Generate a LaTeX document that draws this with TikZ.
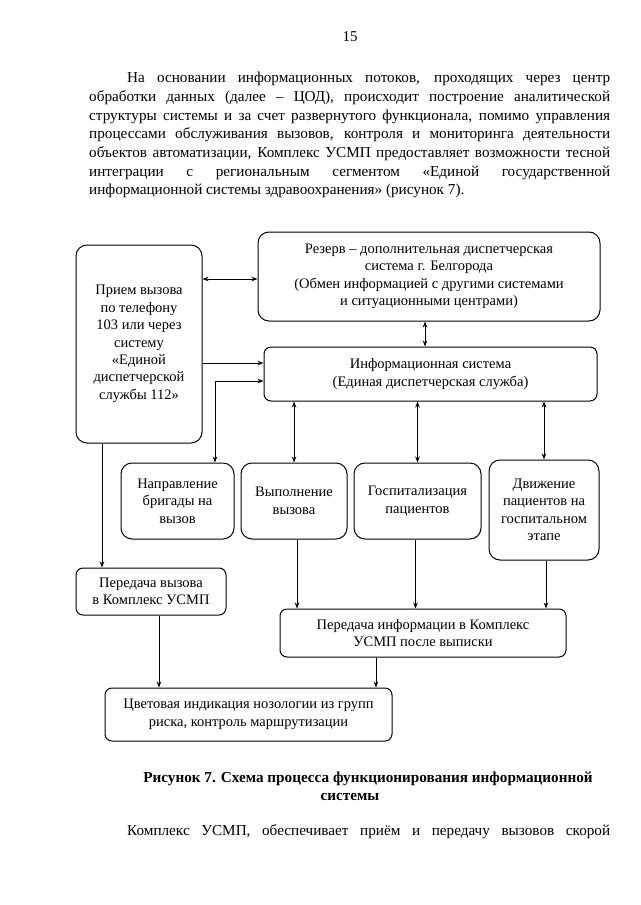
\documentclass[tikz,border=0pt]{standalone}
\usepackage{fontspec}
\setmainfont{Liberation Serif}
\usetikzlibrary{arrows.meta}
\tikzset{
  box/.style={draw, line width=1pt, align=center, inner sep=0pt, font=\fontsize{14.5}{17.4}\selectfont},
  bigbox/.style={box, rounded corners=11pt},
  smallbox/.style={box, rounded corners=7pt},
  arr/.style={line width=0.9pt, -{Stealth[length=6pt,width=4.5pt]}},
  darr/.style={line width=0.9pt, {Stealth[length=6pt,width=4.5pt]}-{Stealth[length=6pt,width=4.5pt]}},
  para/.style={anchor=west, inner sep=0pt, font=\fontsize{15.2}{18}\selectfont},
}
\begin{document}
\begin{tikzpicture}[x=1pt, y=-1pt]
\useasboundingbox[fill=white] (0,0) rectangle (640,905);

% page number
\node[inner sep=0pt, font=\fontsize{15}{18}\selectfont] (pg) at (350,37) {15};

% paragraph
\node[para] (t1) at (127,79)  {\makebox[483pt][s]{На основании информационных потоков, проходящих через центр}};
\node[para] (t2) at (89,97.7) {\makebox[521pt][s]{обработки данных (далее – ЦОД), происходит построение аналитической}};
\node[para] (t3) at (89,116.4)  {\makebox[521pt][s]{структуры системы и за счет развернутого функционала, помимо управления}};
\node[para] (t4) at (89,135.1){\makebox[521pt][s]{процессами обслуживания вызовов, контроля и мониторинга деятельности}};
\node[para] (t5) at (89,153.8)  {\makebox[521pt][s]{объектов автоматизации, Комплекс УСМП предоставляет возможности тесной}};
\node[para] (t6) at (89,172.5){\makebox[521pt][s]{интеграции с региональным сегментом «Единой государственной}};
\node[para] (t7) at (89,191.2)  {информационной системы здравоохранения» (рисунок 7).};

% boxes
\node[bigbox, minimum width=126pt, minimum height=198pt] (L) at (139,344)
  {Прием вызова\\по телефону\\103 или через\\систему\\«Единой\\диспетчерской\\службы 112»};
\node[bigbox, minimum width=342pt, minimum height=89pt] (R) at (429,276.5)
  {Резерв – дополнительная диспетчерская\\система г. Белгорода\\(Обмен информацией с другими системами\\и ситуационными центрами)};
\node[smallbox, minimum width=333pt, minimum height=54pt] (I) at (430.5,374)
  {Информационная система\\(Единая диспетчерская служба)};
\node[bigbox, minimum width=113pt, minimum height=76pt] (N) at (177.5,501)
  {Направление\\бригады на\\вызов};
\node[bigbox, minimum width=106pt, minimum height=76pt] (V) at (294,501)
  {Выполнение\\вызова};
\node[bigbox, minimum width=127pt, minimum height=76pt] (G) at (417.5,501)
  {Госпитализация\\пациентов};
\node[bigbox, minimum width=110pt, minimum height=100pt] (D) at (544,510)
  {Движение\\пациентов на\\госпитальном\\этапе};
\node[smallbox, minimum width=150pt, minimum height=47pt] (P1) at (151,591.5)
  {Передача вызова\\в Комплекс УСМП};
\node[smallbox, minimum width=286pt, minimum height=48pt] (P2) at (423,633)
  {Передача информации в Комплекс\\УСМП после выписки};
\node[smallbox, minimum width=287pt, minimum height=53pt] (C) at (248.5,714.5)
  {Цветовая индикация нозологии из групп\\риска, контроль маршрутизации};

% connectors
\draw[darr] ([yshift=-2.5pt]R.west -| L.east) -- ([yshift=-2.5pt]R.west);
\draw[arr] ([yshift=11pt]I.west -| L.east) -- ([yshift=11pt]I.west);
\draw[darr] ([yshift=-7pt]I.west) -| ([xshift=37.5pt]N.north);
\draw[darr] ([xshift=-4pt]R.south) -- ([xshift=-4pt]R.south |- I.north);
\draw[darr] (V.north |- I.south) -- (V.north);
\draw[darr] (G.north |- I.south) -- (G.north);
\draw[darr] (D.north |- I.south) -- (D.north);
\draw[arr] ([xshift=-49pt]P1.north |- L.south) -- ([xshift=-49pt]P1.north);
\draw[arr] ([xshift=3pt]V.south) -- ([xshift=3pt]V.south |- P2.north);
\draw[arr] ([xshift=-2pt]G.south) -- ([xshift=-2pt]G.south |- P2.north);
\draw[arr] ([xshift=2pt]D.south) -- ([xshift=2pt]D.south |- P2.north);
\draw[arr] ([xshift=8pt]P1.south) -- ([xshift=8pt]P1.south |- C.north);
\draw[arr] ([xshift=-47pt]P2.south) -- ([xshift=-47pt]P2.south |- C.north);

% caption
\node[inner sep=0pt, font=\fontsize{15.2}{18}\selectfont\bfseries] (cap1) at (368,779)
  {Рисунок 7. Схема процесса функционирования информационной};
\node[inner sep=0pt, font=\fontsize{15.2}{18}\selectfont\bfseries] (cap2) at (350,797) {системы};

% last line
\node[para] (t8) at (127,832) {\makebox[483pt][s]{Комплекс УСМП, обеспечивает приём и передачу вызовов скорой}};
\end{tikzpicture}
\end{document}
